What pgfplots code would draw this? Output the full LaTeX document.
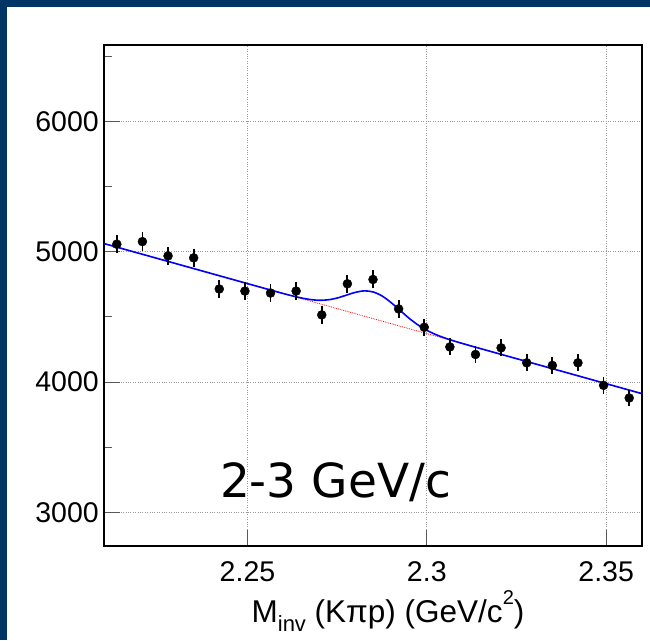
\documentclass[border=0pt]{standalone}
\usepackage{fontspec}
\setmainfont{Liberation Sans}
\newfontfamily\dejavu{DejaVu Sans}
\usepackage{pgfplots}
\pgfplotsset{compat=1.18}
\definecolor{frameblue}{RGB}{0,53,102}
\begin{document}
\begin{tikzpicture}
\useasboundingbox (0pt,0pt) rectangle (650pt,640pt);
\fill[white] (0pt,0pt) rectangle (650pt,640pt);
\fill[frameblue] (0pt,0pt) rectangle (7pt,640pt);
\fill[frameblue] (0pt,633pt) rectangle (650pt,640pt);
\begin{axis}[
  at={(104pt,94pt)}, anchor=south west,
  scale only axis, width=538pt, height=501pt,
  xmin=2.21, xmax=2.36, ymin=2741, ymax=6589,
  xtick={2.25,2.3,2.35}, xticklabels={2.25,2.3,2.35},
  ytick={3000,4000,5000,6000},
  yticklabels={3000,4000,5000,6000},
  minor ytick={3500,4500,5500,6500},
  tick pos=left, tick align=inside,
  major tick length=16pt, minor tick length=8pt,
  tick style={gray!70!black, line width=1pt},
  grid=major,
  major grid style={gray!80, dotted, line width=0.8pt},
  axis line style={black, line width=1.8pt},
  /pgf/number format/assume math mode=true,
  ticklabel style={font=\fontsize{28.5}{28.5}\selectfont},
  xticklabel style={anchor=base, yshift=-35pt},
  yticklabel style={anchor=east, inner sep=0pt, xshift=-5pt},
  clip=true,
]
\addplot[red, densely dotted, line width=0.8pt] coordinates {(2.21,5064) (2.36,3911)};
\addplot[blue, line width=1.6pt, smooth] coordinates {
(2.21,5064) (2.255,4718) (2.2575,4699) (2.26,4680) (2.2625,4662.3) (2.265,4646.3)
(2.2675,4634.1) (2.27,4628.3) (2.2725,4631.9) (2.275,4645.5) (2.2775,4666.9)
(2.28,4688.5) (2.2825,4700.2) (2.285,4692.5) (2.2875,4661.8) (2.29,4611.6)
(2.2925,4551.6) (2.295,4491.8) (2.2975,4439.7) (2.30,4397.7) (2.3025,4365.1)
(2.305,4338.8) (2.3075,4316.4) (2.31,4295.9) (2.3125,4276.3) (2.315,4256.9)
(2.36,3911)};
\addplot[black, only marks, mark=*, mark size=4.5pt,
  error bars/.cd, y dir=both, y explicit, error mark=none,
  error bar style={black, line width=1.8pt}]
  table[x=x, y=y, y error=e] {
x y e
2.21357 5059 71
2.22071 5079 71
2.22786 4969 70
2.23500 4954 70
2.24214 4715 69
2.24929 4699 69
2.25643 4684 68
2.26357 4699 69
2.27071 4516 67
2.27786 4755 69
2.28500 4788 69
2.29214 4562 68
2.29929 4421 66
2.30643 4270 65
2.31357 4212 65
2.32071 4263 65
2.32786 4148 64
2.33500 4128 64
2.34214 4148 64
2.34929 3975 63
2.35643 3878 62
};
\node[anchor=base west, inner sep=0pt] at (axis cs:2.2423,3115) {\dejavu\fontsize{47}{47}\selectfont 2-3 GeV/c};
\end{axis}
\node[anchor=base, inner sep=0pt] at (388pt,18pt) {\fontsize{31.5}{31.5}\selectfont M\raisebox{-0.3em}{\fontsize{22}{22}\selectfont inv} (Kπp) (GeV/c\raisebox{0.55em}{\fontsize{20}{20}\selectfont 2})};
\end{tikzpicture}
\end{document}
